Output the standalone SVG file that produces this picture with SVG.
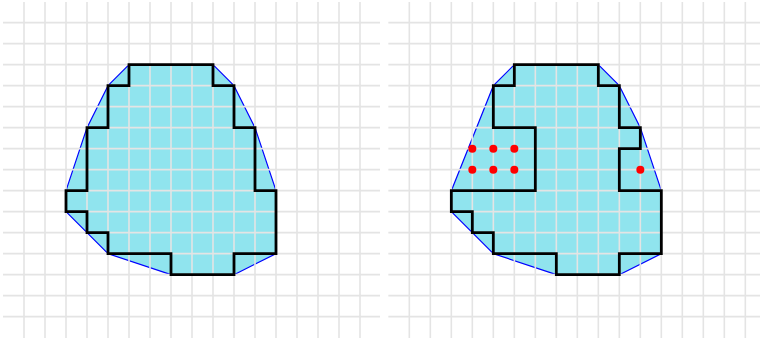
<svg xmlns="http://www.w3.org/2000/svg" width="760" height="340" viewBox="0 0 760 340">
<style>
.hull{fill:#90e4ee;stroke:#0000ff;stroke-width:1.2;stroke-linejoin:round}
.grid line, #vgrid line{stroke:#e4e4e4;stroke-width:1.6}
.poly{fill:none;stroke:#000;stroke-width:2.8;stroke-linejoin:miter}
.dot{fill:#ff0000}
</style>
<defs>
<g id="vgrid" stroke="#e4e4e4" stroke-width="1.6">
<line x1="0" y1="-20.7" x2="0" y2="315.3"/><line x1="21" y1="-20.7" x2="21" y2="315.3"/><line x1="42" y1="-20.7" x2="42" y2="315.3"/><line x1="63" y1="-20.7" x2="63" y2="315.3"/><line x1="84" y1="-20.7" x2="84" y2="315.3"/><line x1="105" y1="-20.7" x2="105" y2="315.3"/><line x1="126" y1="-20.7" x2="126" y2="315.3"/><line x1="147" y1="-20.7" x2="147" y2="315.3"/><line x1="168" y1="-20.7" x2="168" y2="315.3"/><line x1="189" y1="-20.7" x2="189" y2="315.3"/><line x1="210" y1="-20.7" x2="210" y2="315.3"/><line x1="231" y1="-20.7" x2="231" y2="315.3"/><line x1="252" y1="-20.7" x2="252" y2="315.3"/><line x1="273" y1="-20.7" x2="273" y2="315.3"/><line x1="294" y1="-20.7" x2="294" y2="315.3"/><line x1="315" y1="-20.7" x2="315" y2="315.3"/><line x1="336" y1="-20.7" x2="336" y2="315.3"/>
</g>
</defs>
<g id="panel-left" transform="translate(24,22.67)">
<polygon class="hull" points="105,42 189,42 210,63 231,105 252,168 252,231 210,252 147,252 84,231 42,189 42,168 63,105 84,63"/>
<g class="grid">
<use href="#vgrid"/>
<line x1="-21" y1="0" x2="356" y2="0"/><line x1="-21" y1="21" x2="356" y2="21"/><line x1="-21" y1="42" x2="356" y2="42"/><line x1="-21" y1="63" x2="356" y2="63"/><line x1="-21" y1="84" x2="356" y2="84"/><line x1="-21" y1="105" x2="356" y2="105"/><line x1="-21" y1="126" x2="356" y2="126"/><line x1="-21" y1="147" x2="356" y2="147"/><line x1="-21" y1="168" x2="356" y2="168"/><line x1="-21" y1="189" x2="356" y2="189"/><line x1="-21" y1="210" x2="356" y2="210"/><line x1="-21" y1="231" x2="356" y2="231"/><line x1="-21" y1="252" x2="356" y2="252"/><line x1="-21" y1="273" x2="356" y2="273"/><line x1="-21" y1="294" x2="356" y2="294"/>
</g>
<polygon id="left-region" class="poly" points="105,42 189,42 189,63 210,63 210,105 231,105 231,168 252,168 252,231 210,231 210,252 147,252 147,231 84,231 84,210 63,210 63,189 42,189 42,168 63,168 63,105 84,105 84,63 105,63"/>
</g>
<g id="panel-right" transform="translate(409.33,22.67)">
<polygon class="hull" points="105,42 189,42 210,63 231,105 252,168 252,231 210,252 147,252 84,231 42,189 42,168 84,63"/>
<g class="grid">
<use href="#vgrid"/>
<line x1="-21" y1="0" x2="351" y2="0"/><line x1="-21" y1="21" x2="351" y2="21"/><line x1="-21" y1="42" x2="351" y2="42"/><line x1="-21" y1="63" x2="351" y2="63"/><line x1="-21" y1="84" x2="351" y2="84"/><line x1="-21" y1="105" x2="351" y2="105"/><line x1="-21" y1="126" x2="351" y2="126"/><line x1="-21" y1="147" x2="351" y2="147"/><line x1="-21" y1="168" x2="351" y2="168"/><line x1="-21" y1="189" x2="351" y2="189"/><line x1="-21" y1="210" x2="351" y2="210"/><line x1="-21" y1="231" x2="351" y2="231"/><line x1="-21" y1="252" x2="351" y2="252"/><line x1="-21" y1="273" x2="351" y2="273"/><line x1="-21" y1="294" x2="351" y2="294"/>
</g>
<polygon id="right-region" class="poly" points="105,42 189,42 189,63 210,63 210,105 231,105 231,126 210,126 210,168 252,168 252,231 210,231 210,252 147,252 147,231 84,231 84,210 63,210 63,189 42,189 42,168 126,168 126,105 84,105 84,63 105,63"/>
<g id="dots">
<circle class="dot" cx="63" cy="126" r="4"/><circle class="dot" cx="84" cy="126" r="4"/><circle class="dot" cx="105" cy="126" r="4"/>
<circle class="dot" cx="63" cy="147" r="4"/><circle class="dot" cx="84" cy="147" r="4"/><circle class="dot" cx="105" cy="147" r="4"/>
<circle class="dot" cx="231" cy="147" r="4"/>
</g>
</g>
</svg>
